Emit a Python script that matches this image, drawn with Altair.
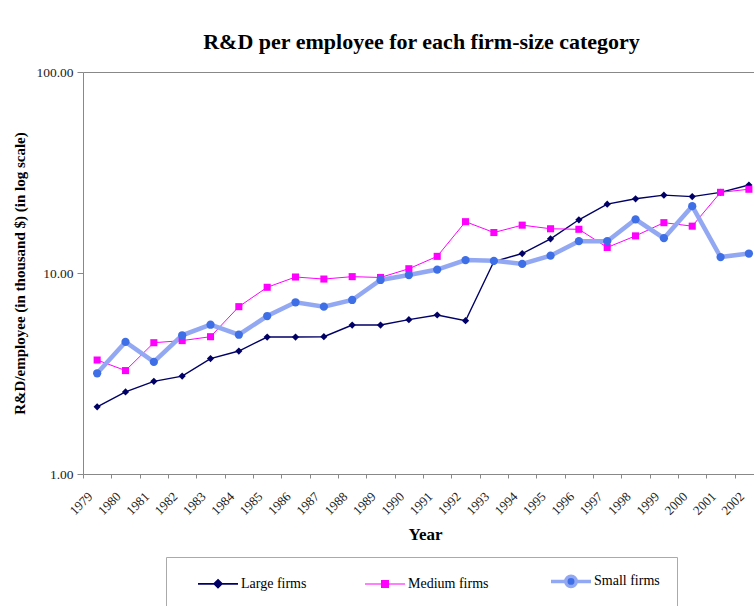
import altair as alt
import pandas as pd

# R&D per employee (thousand $) by firm-size category, 1979-2002
years = list(range(1979, 2003))
series = ["Large firms", "Medium firms", "Small firms"]
large = [2.16, 2.56, 2.89, 3.07, 3.75, 4.09, 4.80, 4.80, 4.82, 5.51, 5.51, 5.86,
         6.18, 5.79, 11.4, 12.5, 14.8, 18.4, 22.0, 23.4, 24.4, 24.0, 25.2, 27.4]
medium = [3.69, 3.27, 4.50, 4.61, 4.82, 6.80, 8.49, 9.55, 9.33, 9.59, 9.50, 10.5,
          12.1, 18.0, 15.9, 17.3, 16.6, 16.5, 13.4, 15.3, 17.8, 17.1, 25.2, 26.1]
small = [3.17, 4.54, 3.61, 4.90, 5.53, 4.93, 6.11, 7.15, 6.80, 7.34, 9.23, 9.77,
         10.4, 11.6, 11.5, 11.1, 12.2, 14.4, 14.4, 18.5, 14.9, 21.5, 12.0, 12.5]

line_colors = ["#000066", "#FF00FF", "#93A8F2"]
marker_colors = ["#000066", "#FF00FF", "#3F6FE6"]
line_widths = [1.4, 1.0, 4.5]
marker_shapes = ["diamond", "square", "circle"]
marker_sizes = [52, 50, 68]

# legend glyphs (unit square scaled to 40px): a line segment plus the marker
legend_paths = [
    "M-1,0H-0.19M0.19,0H1M0,-0.19L0.19,0L0,0.19L-0.19,0Z",
    "M-1,0H-0.17M0.17,0H1M-0.17,-0.17H0.17V0.17H-0.17Z",
    "M-1,0H-0.26M0.26,0H1M0.26,0A0.26,0.26,0,1,1,-0.26,0A0.26,0.26,0,1,1,0.26,0Z",
]
legend_widths = [1.8, 1.2, 3.5]

rows = []
for name, vals in zip(series, [large, medium, small]):
    for yr, v in zip(years, vals):
        rows.append({"Year": yr, "Series": name, "Value": v})
df = pd.DataFrame(rows)

FONT = "Liberation Serif"
x_scale = alt.Scale(domain=[1978.5, 2002.18], nice=False, zero=False)
y_scale = alt.Scale(type="log", domain=[1, 100], nice=False)


def pick(values, field="datum.value"):
    """Expression choosing one value per series name."""
    def lit(v):
        return f"'{v}'" if isinstance(v, str) else str(v)
    expr = lit(values[-1])
    for s, v in reversed(list(zip(series[:-1], values[:-1]))):
        expr = f"{field} === '{s}' ? {lit(v)} : ({expr})"
    return expr


def per_series(values):
    return [
        {"test": f"datum.Series === '{s}'", "value": v}
        for s, v in zip(series[:-1], values[:-1])
    ]


bottom_axis = alt.Axis(
    values=[y - 0.5 for y in years],
    labelExpr="format(datum.value + 0.5, 'd')",
    labelAngle=315,
    labelAlign="right",
    labelBaseline="middle",
    labelOffset=7,
    labelPadding=16,
    labelFlush=False,
    labelOverlap=False,
    labelBound=False,
    labelFontSize=13,
    tickSize=4,
    grid=False,
    title="Year",
    titleFontSize=17,
    titleFontWeight="bold",
    titlePadding=9,
    titleX=342,
)

top_axis = alt.Axis(orient="top", labels=False, ticks=False, grid=False, title=None)

y_axis = alt.Axis(
    values=[1, 10, 100],
    format=".2f",
    labelFontSize=13.5,
    labelPadding=4,
    tickSize=6,
    grid=False,
    title="R&D/employee (in thousand $) (in log scale)",
    titleFontSize=15,
    titleFontWeight="bold",
    titlePadding=8,
)

legend = alt.Legend(
    title=" ",
    titleOrient="left",
    titleFontSize=14,
    titlePadding=28,
    orient="none",
    legendX=83,
    legendY=485,
    direction="horizontal",
    columns=3,
    columnPadding=55,
    symbolSize=1600,
    symbolType={"expr": pick(legend_paths)},
    symbolFillColor={"expr": pick(marker_colors)},
    symbolStrokeWidth={"expr": pick(legend_widths)},
    labelFont=FONT,
    labelFontSize=14,
    labelColor="black",
    labelOffset=16,
    padding=17,
    strokeColor="#aaaaaa",
    fillColor="white",
)

lines = alt.Chart(df).mark_line().encode(
    x=alt.X("Year:Q", scale=x_scale, axis=bottom_axis),
    y=alt.Y("Value:Q", scale=y_scale, axis=y_axis),
    color=alt.Color("Series:N", scale=alt.Scale(domain=series, range=line_colors), legend=legend),
    strokeWidth=alt.StrokeWidthValue(line_widths[-1], condition=per_series(line_widths)),
)

# one marker layer per series, drawn over all the lines
marker_layers = []
for i, (name, shape, colour, size) in enumerate(
    zip(series, marker_shapes, marker_colors, marker_sizes)
):
    marker_layers.append(
        alt.Chart(df)
        .transform_filter(alt.datum.Series == name)
        .mark_point(shape=shape, filled=True, color=colour, size=size, opacity=1)
        .encode(
            x=alt.X("Year:Q", scale=x_scale, axis=top_axis if i == 0 else None),
            y=alt.Y("Value:Q", scale=y_scale, axis=y_axis),
        )
    )

chart = (
    alt.layer(lines, *marker_layers)
    .resolve_axis(x="independent")
    .properties(
        width=671,
        height=402,
        autosize=alt.AutoSizeParams(type="none"),
        padding={"left": 83, "top": 72, "right": 0, "bottom": 132},
        title=alt.TitleParams(
            "R&D per employee for each firm-size category",
            font=FONT,
            fontSize=22,
            fontWeight="bold",
            color="black",
            anchor="middle",
            frame="group",
            baseline="alphabetic",
            offset=19,
            dx=3,
            dy=25,
        ),
    )
    .configure_view(stroke=None)
    .configure_axis(
        labelFont=FONT,
        titleFont=FONT,
        labelColor="#222222",
        titleColor="black",
        domainColor="#888888",
        tickColor="#888888",
    )
)

chart.save("out.html", embed_options={"renderer": "svg", "actions": False})
